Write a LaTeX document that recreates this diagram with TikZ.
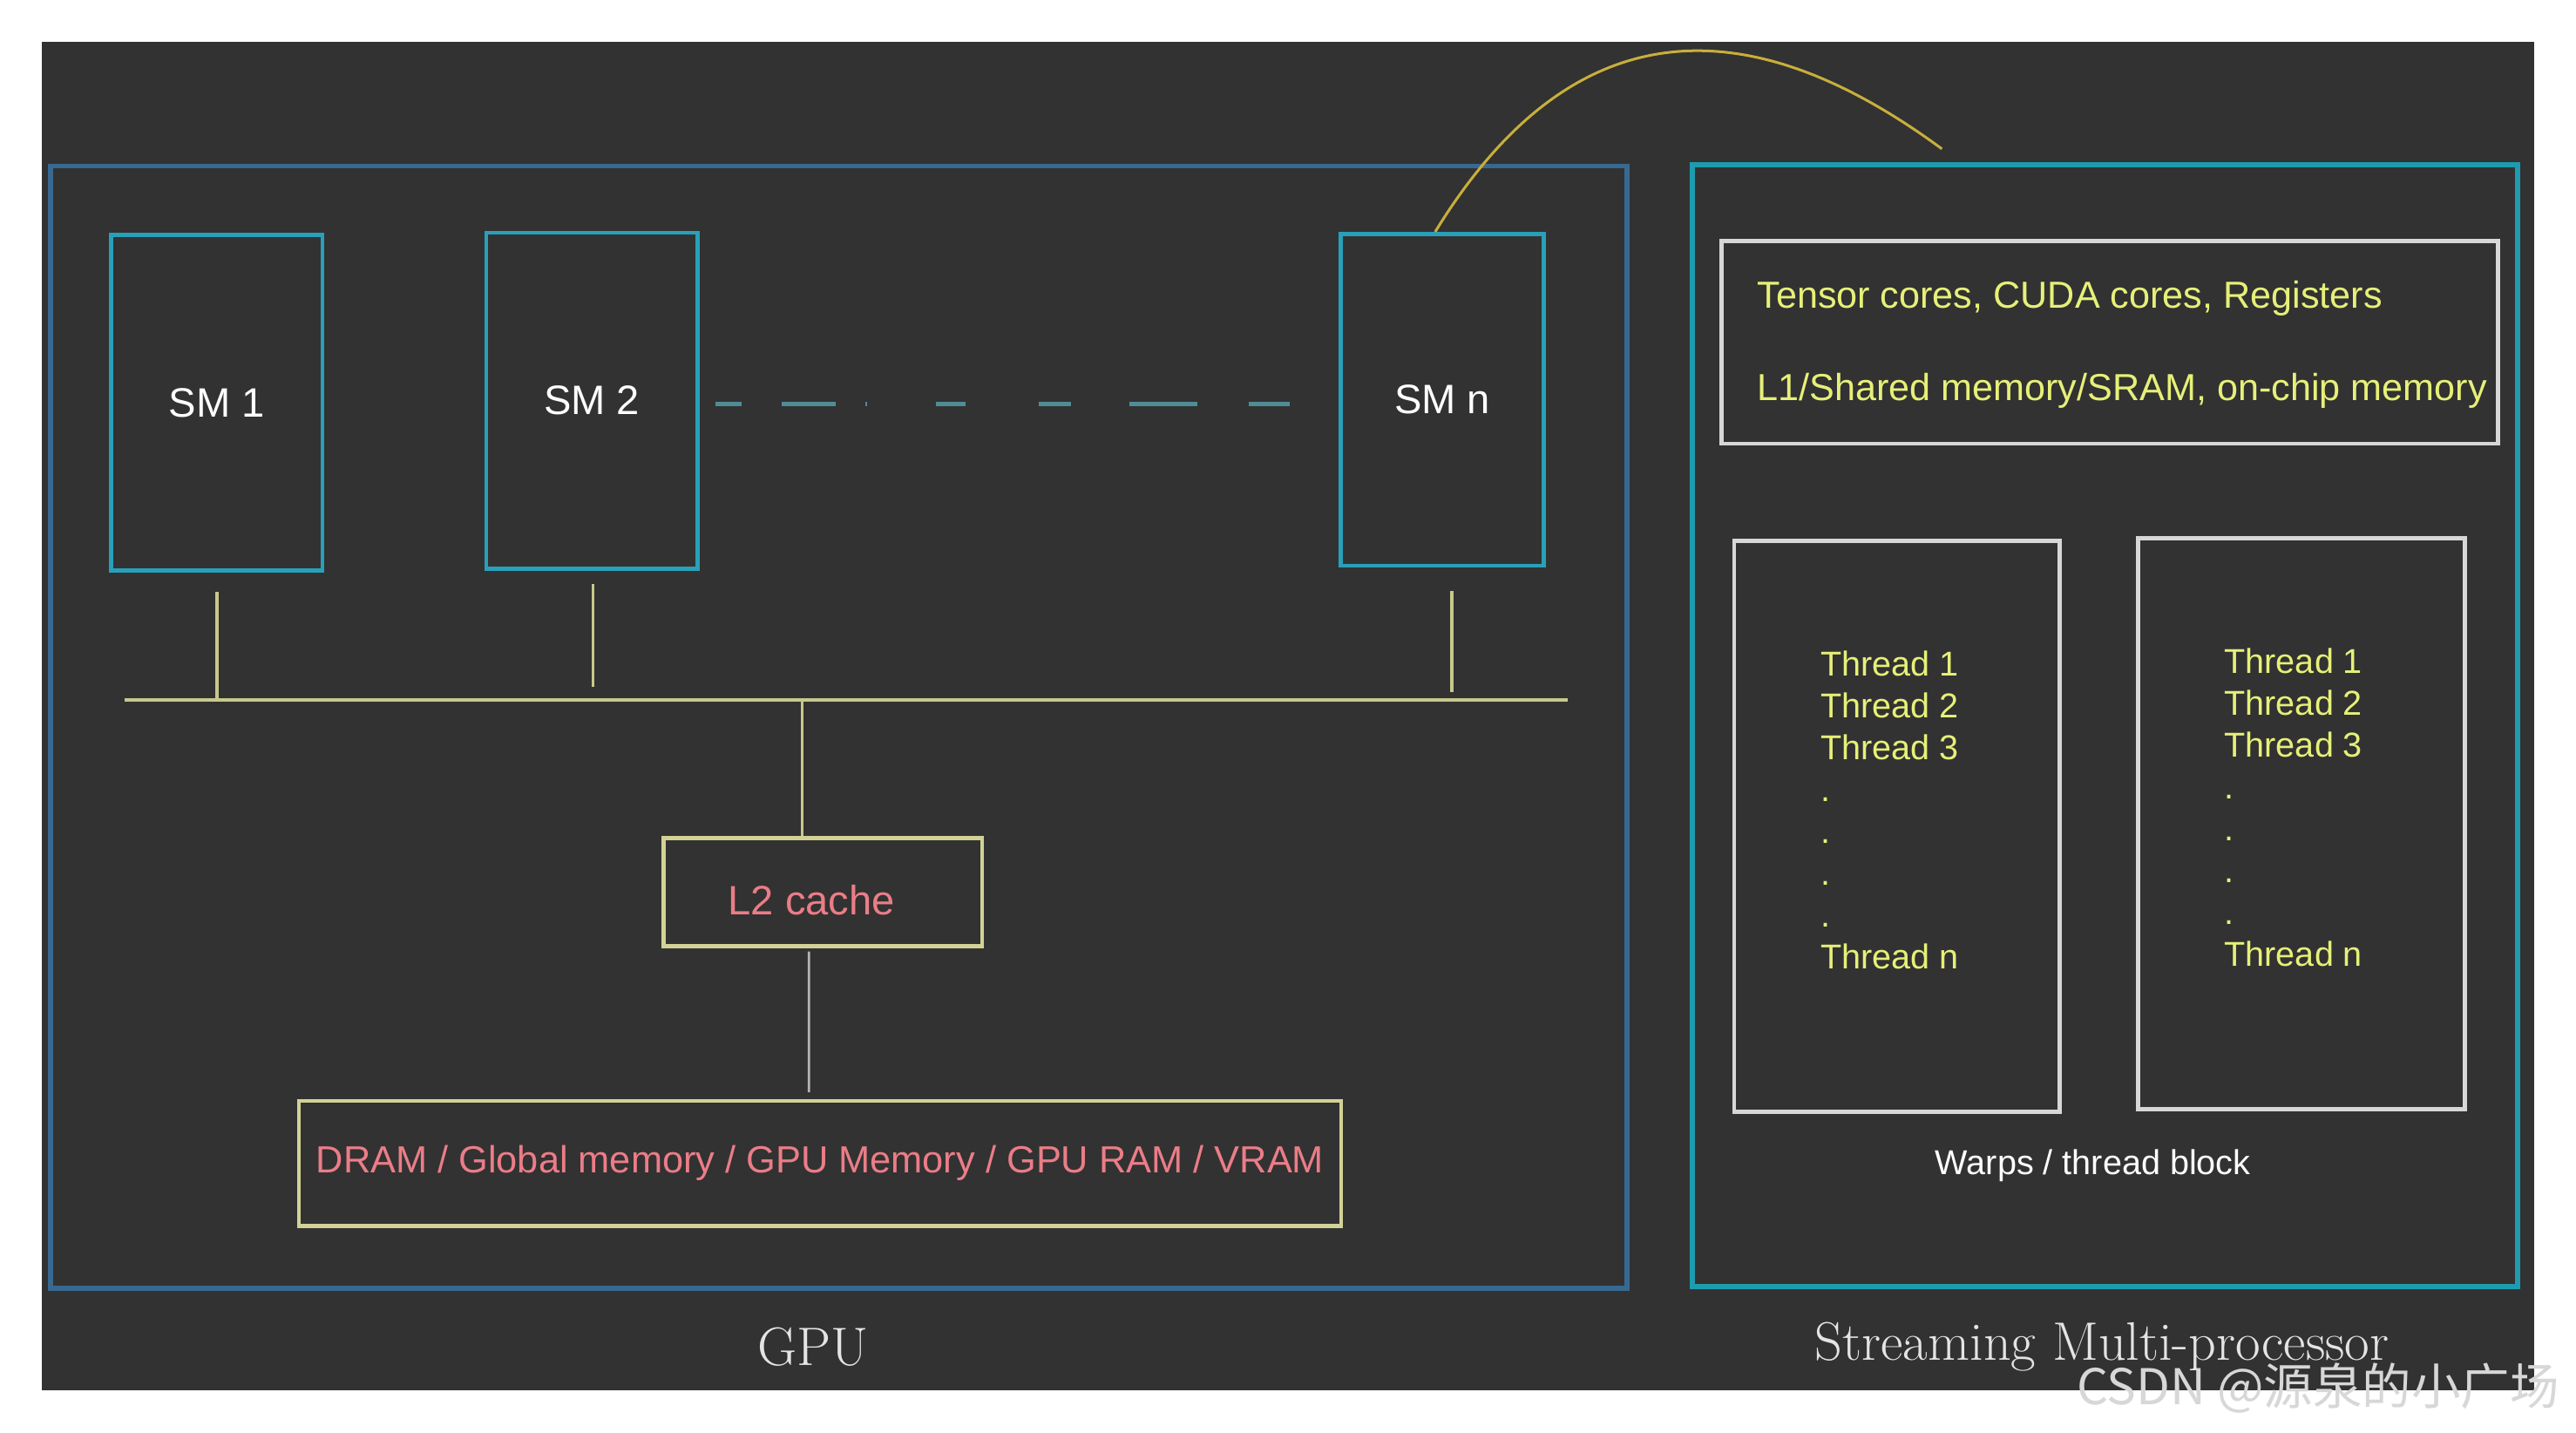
\documentclass[tikz,border=0pt]{standalone}
\usepackage{fontspec}
\newfontfamily\sansf{Liberation Sans}
\newfontfamily\cjkf{Noto Sans CJK SC}
\usetikzlibrary{calc}
\definecolor{bgdark}{RGB}{50,50,50}
\definecolor{gpublue}{RGB}{55,105,145}
\definecolor{smcyan}{RGB}{40,160,185}
\definecolor{outercyan}{RGB}{30,155,175}
\definecolor{boxgray}{RGB}{215,215,215}
\definecolor{busyel}{RGB}{200,200,140}
\definecolor{boxyel}{RGB}{210,210,150}
\definecolor{curvegold}{RGB}{200,175,60}
\definecolor{textyel}{RGB}{230,240,120}
\definecolor{textpink}{RGB}{235,125,135}
\definecolor{dashteal}{RGB}{80,140,150}
\definecolor{labelgray}{RGB}{228,228,228}
\definecolor{lineg}{RGB}{180,180,180}
\definecolor{wmgray}{RGB}{215,215,215}
\begin{document}
\begin{tikzpicture}[x=1pt,y=-1pt,
  gpuframe/.style={draw=gpublue,line width=3pt,rectangle,inner sep=0pt},
  smframe/.style={draw=outercyan,line width=3pt,rectangle,inner sep=0pt},
  smbox/.style={draw=smcyan,line width=2.5pt,rectangle,inner sep=0pt,text=white,font={\sansf\fontsize{25}{30}\selectfont}},
  membox/.style={draw=boxyel,line width=2.5pt,rectangle,inner sep=0pt,text=textpink,font={\sansf\fontsize{25}{30}\selectfont}},
  pinktext/.style={text=textpink,inner sep=0pt,font={\sansf\fontsize{25}{30}\selectfont}},
  graybox/.style={draw=boxgray,line width=2.5pt,rectangle,inner sep=0pt},
  yeltext/.style={text=textyel,inner sep=0pt,font={\sansf\fontsize{22.9}{27}\selectfont}},
  threadtext/.style={text=textyel,inner sep=0pt,align=left,font={\sansf\fontsize{21}{25.5}\selectfont}},
  whitetext/.style={text=white,inner sep=0pt,font={\sansf\fontsize{21}{25}\selectfont}},
  labeltext/.style={text=labelgray,inner sep=0pt,font={\fontsize{33}{37}\selectfont}},
  watermark/.style={text=wmgray,inner sep=0pt,font={\cjkf\fontsize{30}{34}\selectfont}},
  bus/.style={draw=busyel,line width=2.5pt},
  conn/.style={draw=busyel,line width=2pt},
  memline/.style={draw=lineg,line width=1.5pt},
  dashline/.style={draw=dashteal,line width=2.5pt,dash pattern=on 16.1pt off 24.4pt on 32.6pt off 18.2pt on 1pt off 41.7pt on 18.2pt off 44.5pt on 19.7pt off 35.3pt on 41.8pt off 31.2pt on 27.3pt off 20pt},
  curveline/.style={draw=curvegold,line width=1.6pt}
]
\useasboundingbox (0,0) rectangle (1568,872);
\fill[white] (0,0) rectangle (1568,872);
\fill[bgdark] (25.5,25.2) rectangle (1542.7,846);

% GPU side
\node[gpuframe,minimum width=959.4pt,minimum height=683pt] (gpu) at (510.6,442.5) {};
\node[smbox,minimum width=128.5pt,minimum height=204pt] (SM1) at (132,245) {SM 1};
\node[smbox,minimum width=128.6pt,minimum height=204.4pt] (SM2) at (360.3,243.8) {SM 2};
\node[smbox,minimum width=123.7pt,minimum height=202pt] (SMn) at (877.9,243.3) {SM n};
\draw[dashline] ($(SM2.east)+(9.7,2.2)$) -- ($(SMn.west)+(-29.7,2.7)$);

\coordinate (busL) at (76,426);
\coordinate (busR) at (954,426);
\draw[bus] (busL) -- (busR);
\draw[conn] ($(SM1.south)+(0,12)$) -- (SM1.south |- busL);
\draw[conn] ($(SM2.south)+(0.7,8)$) -- ($(SM2.south |- busL)+(0.7,-8)$);
\draw[conn] ($(SMn.south)+(5.8,14)$) -- ($(SMn.south |- busL)+(5.8,-5)$);

\node[membox,minimum width=194pt,minimum height=65.8pt] (L2) at (500.75,542.9) {};
\node[pinktext] (L2t) at (494,547.6) {L2 cache};
\node[membox,font={\sansf\fontsize{23}{28}\selectfont},minimum width=634.4pt,minimum height=76pt] (DRAM) at (499.1,707.9) {DRAM / Global memory / GPU Memory / GPU RAM / VRAM};
\draw[conn] ($(L2.north |- busL)+(-12.5,0)$) -- ($(L2.north)+(-12.5,0)$);
\draw[memline] ($(L2.south)+(-8.35,2)$) -- ($(DRAM.north)+(-6.7,-4)$);

\node[labeltext,anchor=base] (gpulabel) at (495,831) {GPU};

% SM side
\node[smframe,minimum width=502.4pt,minimum height=682.6pt] (smbig) at (1281.2,441.7) {};
\node[graybox,minimum width=472.6pt,minimum height=123.2pt] (tensor) at (1284.3,208.4) {};
\node[yeltext,anchor=base west] (tensorA) at (1069.4,187.6) {Tensor cores, CUDA cores, Registers};
\node[yeltext,anchor=base west] (tensorB) at (1069.4,244) {L1/Shared memory/SRAM, on-chip memory};
\node[graybox,minimum width=198.2pt,minimum height=347.4pt] (blockA) at (1154.6,503) {};
\node[graybox,minimum width=198.6pt,minimum height=347.3pt] (blockB) at (1400.9,501.2) {};
\node[threadtext,anchor=north west] (threadsA) at (1108,395.7) {Thread 1\\Thread 2\\Thread 3\\.\\.\\.\\.\\Thread n};
\node[threadtext,anchor=north west] (threadsB) at (1353.8,394.2) {Thread 1\\Thread 2\\Thread 3\\.\\.\\.\\.\\Thread n};
\node[whitetext,anchor=base] (warps) at (1274,715) {Warps / thread block};
\node[labeltext,anchor=base] (smlabel) at (1279.5,828) {Streaming Multi-processor};

\coordinate (curveend) at (1182,90.6);
\draw[curveline] ($(SMn.north)+(-4.3,0)$) .. controls (965,-8) and (1078,14) .. (curveend);

\node[watermark,anchor=base west] (wm) at (1264,855) {CSDN @源泉的小广场};
\end{tikzpicture}
\end{document}
